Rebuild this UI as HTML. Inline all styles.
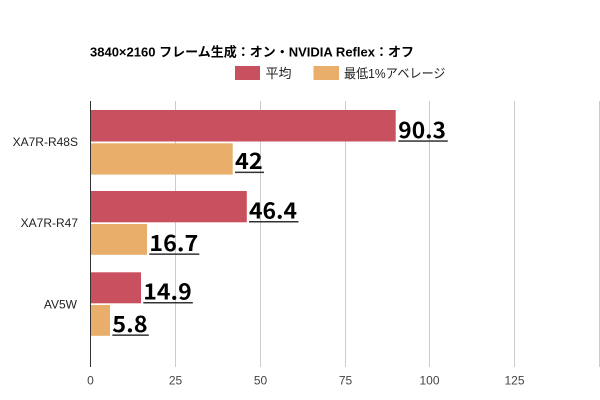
<!DOCTYPE html>
<html>
<head>
<meta charset="utf-8">
<style>
html,body{margin:0;padding:0;background:#fff;}
svg{display:block;}
.t{font-family:"Liberation Sans","Noto Sans CJK JP",sans-serif;}
.v{font-family:"Noto Sans CJK JP","Liberation Sans",sans-serif;font-weight:bold;font-size:22px;fill:#000;}
</style>
</head>
<body>
<svg width="600" height="400" viewBox="0 0 600 400" xmlns="http://www.w3.org/2000/svg">
<rect width="600" height="400" fill="#fff"/>
<!-- title -->
<text class="t" x="90" y="56.5" font-size="13" font-weight="bold" fill="#000" textLength="324" lengthAdjust="spacingAndGlyphs">3840×2160 フレーム生成：オン・NVIDIA Reflex：オフ</text>
<!-- legend -->
<rect x="235" y="66" width="25" height="14" fill="#c9505f"/>
<text class="t" x="265.5" y="78" font-size="13" fill="#222">平均</text>
<rect x="313.5" y="66" width="25.5" height="14" fill="#e8ae6a"/>
<text class="t" x="344" y="78" font-size="13" fill="#222" textLength="101.5" lengthAdjust="spacingAndGlyphs">最低1%アベレージ</text>
<!-- gridlines -->
<g stroke="#cccccc" stroke-width="1">
<line x1="175.5" y1="101" x2="175.5" y2="367"/>
<line x1="260.5" y1="101" x2="260.5" y2="367"/>
<line x1="345.5" y1="101" x2="345.5" y2="367"/>
<line x1="429.5" y1="101" x2="429.5" y2="367"/>
<line x1="514.5" y1="101" x2="514.5" y2="367"/>
<line x1="599.5" y1="101" x2="599.5" y2="367"/>
</g>
<!-- bars -->
<rect x="91" y="110" width="304.7" height="31.5" fill="#c9505f"/>
<rect x="91" y="143.3" width="141.7" height="31.3" fill="#e8ae6a"/>
<rect x="91" y="191" width="155.8" height="31.3" fill="#c9505f"/>
<rect x="91" y="224" width="56" height="30.8" fill="#e8ae6a"/>
<rect x="91" y="272.3" width="50" height="31" fill="#c9505f"/>
<rect x="91" y="305" width="19" height="30.8" fill="#e8ae6a"/>
<!-- axis -->
<line x1="90.5" y1="101" x2="90.5" y2="367" stroke="#333" stroke-width="1"/>
<!-- value labels -->
<text class="v" x="398.3" y="137.8" textLength="47.7" lengthAdjust="spacingAndGlyphs">90.3</text>
<rect x="398.3" y="140.3" width="49.5" height="1.5" fill="#333"/>
<text class="v" x="235" y="169.2" textLength="27.7" lengthAdjust="spacingAndGlyphs">42</text>
<rect x="235" y="171.6" width="29" height="1.5" fill="#333"/>
<text class="v" x="249" y="218.5" textLength="48" lengthAdjust="spacingAndGlyphs">46.4</text>
<rect x="249" y="221" width="49.5" height="1.5" fill="#333"/>
<text class="v" x="149.3" y="251" textLength="49" lengthAdjust="spacingAndGlyphs">16.7</text>
<rect x="149.3" y="253.4" width="50" height="1.5" fill="#333"/>
<text class="v" x="143.3" y="299.5" textLength="48.4" lengthAdjust="spacingAndGlyphs">14.9</text>
<rect x="143.3" y="302" width="49.5" height="1.5" fill="#333"/>
<text class="v" x="112.3" y="332" textLength="35.4" lengthAdjust="spacingAndGlyphs">5.8</text>
<rect x="112.3" y="334.4" width="36.5" height="1.5" fill="#333"/>
<!-- category labels -->
<g class="t" font-size="12" fill="#222" text-anchor="end">
<text x="78" y="146">XA7R-R48S</text>
<text x="78" y="227">XA7R-R47</text>
<text x="77" y="308.3">AV5W</text>
</g>
<!-- tick labels -->
<g class="t" font-size="12" fill="#444" text-anchor="middle">
<text x="90.5" y="384.5">0</text>
<text x="175.5" y="384.5">25</text>
<text x="260.5" y="384.5">50</text>
<text x="345.5" y="384.5">75</text>
<text x="429.5" y="384.5">100</text>
<text x="514.5" y="384.5">125</text>
</g>
</svg>
</body>
</html>
